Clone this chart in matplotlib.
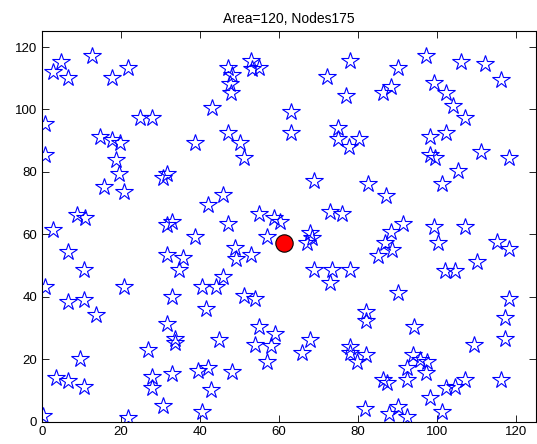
import matplotlib
matplotlib.use("Agg")
import matplotlib.pyplot as plt

plt.rcParams['font.family'] = ['Liberation Sans', 'DejaVu Sans']

node_x = [2.7, 4.7, 6.7, 12.7, 17.7, 21.7, 24.8, 27.8, 0.8, 0.8, 14.7, 17.6, 19.7, 18.7, 38.7,
          47.0, 48.2, 47.6, 47.8, 52.9, 53.1, 54.9, 43.0, 63.0, 63.0, 72.1, 78.0, 77.0, 74.9, 74.9,
          77.7, 80.1, 47.0, 50.0, 51.0,
          97.2, 106.1, 112.2, 116.2, 90.2, 88.3, 86.2, 99.2, 102.3, 104.1, 107.1, 98.2, 102.3, 98.1,
          99.5, 111.1, 118.2,
          19.6, 15.7, 20.8, 30.6, 31.7, 8.8, 10.9, 2.7, 31.6, 32.8, 38.7, 6.7, 10.6, 0.8, 20.8,
          31.6, 35.6, 34.7,
          68.9, 82.6, 45.9, 41.9, 47.0, 54.9, 58.8, 60.3, 56.9, 67.8, 68.3, 67.0, 72.9, 75.9, 48.9,
          49.0, 52.9, 45.9, 40.4, 44.0, 68.9, 73.3, 78.0, 73.0,
          105.2, 101.2, 87.1, 91.3, 88.3, 86.8, 88.5, 85.1, 99.2, 100.1, 107.1, 115.1, 118.2, 110.0,
          102.0, 104.4,
          6.7, 10.6, 13.7, 32.8, 31.6, 33.7, 33.7, 26.7, 9.6, 3.5, 6.7, 10.6, 27.8, 27.8, 32.8,
          30.7, 0.3, 21.7, 39.6, 40.4, 41.5, 42.1,
          51.0, 53.9, 54.9, 59.0, 53.9, 58.0, 56.9, 67.8, 65.9, 44.8, 48.0, 42.8, 78.0, 78.0, 79.8,
          81.9, 82.0, 82.0, 81.8,
          90.2, 118.2, 117.2, 117.2, 94.2, 109.2, 94.0, 95.7, 97.4, 92.3, 97.2, 92.3, 86.2, 87.4,
          102.3, 104.4, 107.1, 116.1, 98.2, 101.2, 87.9, 90.2, 92.3]
node_y = [112.1, 115.2, 110.2, 117.2, 110.2, 113.2, 97.4, 97.4, 95.3, 85.4, 91.3, 90.2, 89.2, 83.8, 89.2,
          113.2, 111.1, 108.1, 105.2, 115.5, 112.9, 113.2, 100.4, 99.1, 92.4, 110.5, 115.5, 104.4, 94.2, 90.5,
          88.1, 90.5, 92.4, 89.2, 84.6,
          117.2, 115.3, 114.5, 109.5, 113.2, 107.3, 105.2, 108.4, 105.2, 101.2, 97.4, 91.3, 92.4, 85.4,
          84.6, 86.5, 84.6,
          79.2, 75.3, 73.5, 78.1, 79.2, 66.2, 65.1, 61.4, 63.0, 64.0, 59.2, 54.4, 48.6, 43.2, 43.2,
          53.4, 52.3, 48.6,
          77.1, 76.1, 72.6, 69.4, 63.2, 66.4, 65.1, 64.0, 59.2, 60.3, 58.7, 57.1, 67.2, 66.4, 55.5,
          52.1, 53.4, 46.4, 43.2, 43.2, 48.6, 48.6, 48.6, 44.3,
          80.3, 76.0, 72.4, 63.2, 60.6, 57.1, 55.0, 53.1, 62.4, 57.1, 62.4, 57.4, 55.3, 51.2,
          48.2, 48.2,
          38.2, 38.9, 34.1, 40.0, 31.2, 26.4, 25.1, 22.9, 20.0, 14.0, 13.0, 11.2, 14.4, 10.8, 15.1,
          5.1, 1.8, 1.0, 16.2, 3.1, 36.0, 17.2,
          40.3, 39.3, 30.4, 27.9, 24.5, 24.3, 19.2, 26.1, 21.9, 26.1, 16.0, 10.1, 24.0, 21.9, 19.2,
          21.2, 35.0, 32.3, 4.1,
          41.1, 39.3, 33.3, 26.4, 30.4, 24.5, 21.3, 19.7, 19.0, 17.2, 15.4, 13.3, 13.3, 12.2,
          10.8, 11.2, 13.3, 13.3, 7.4, 3.1, 2.3, 4.7, 1.5]

sink_x = [61.3]
sink_y = [57.3]

title_text = "Area=120, Nodes175"
ticks = [0, 20, 40, 60, 80, 100, 120]

fig = plt.figure(figsize=(5.37, 4.44), dpi=100)
ax = fig.add_axes([42/537, 22.5/444, 494/537, 390/444])
ax.plot(node_x, node_y, linestyle='none', marker='*', markersize=13,
        markerfacecolor='none', markeredgecolor='blue', markeredgewidth=0.8)
ax.plot(sink_x, sink_y, linestyle='none', marker='o', markersize=12.5,
        markerfacecolor='red', markeredgecolor='black', markeredgewidth=0.8)
ax.set_xlim(0, 125)
ax.set_ylim(0, 125)
ax.set_xticks(ticks)
ax.set_yticks(ticks)
ax.tick_params(direction='in', top=True, right=True, length=5, labelsize=9.5, width=0.6)
for s in ax.spines.values():
    s.set_linewidth(0.8)
ax.set_title(title_text, fontsize=10, pad=6)
fig.savefig("out.png", dpi=100)
